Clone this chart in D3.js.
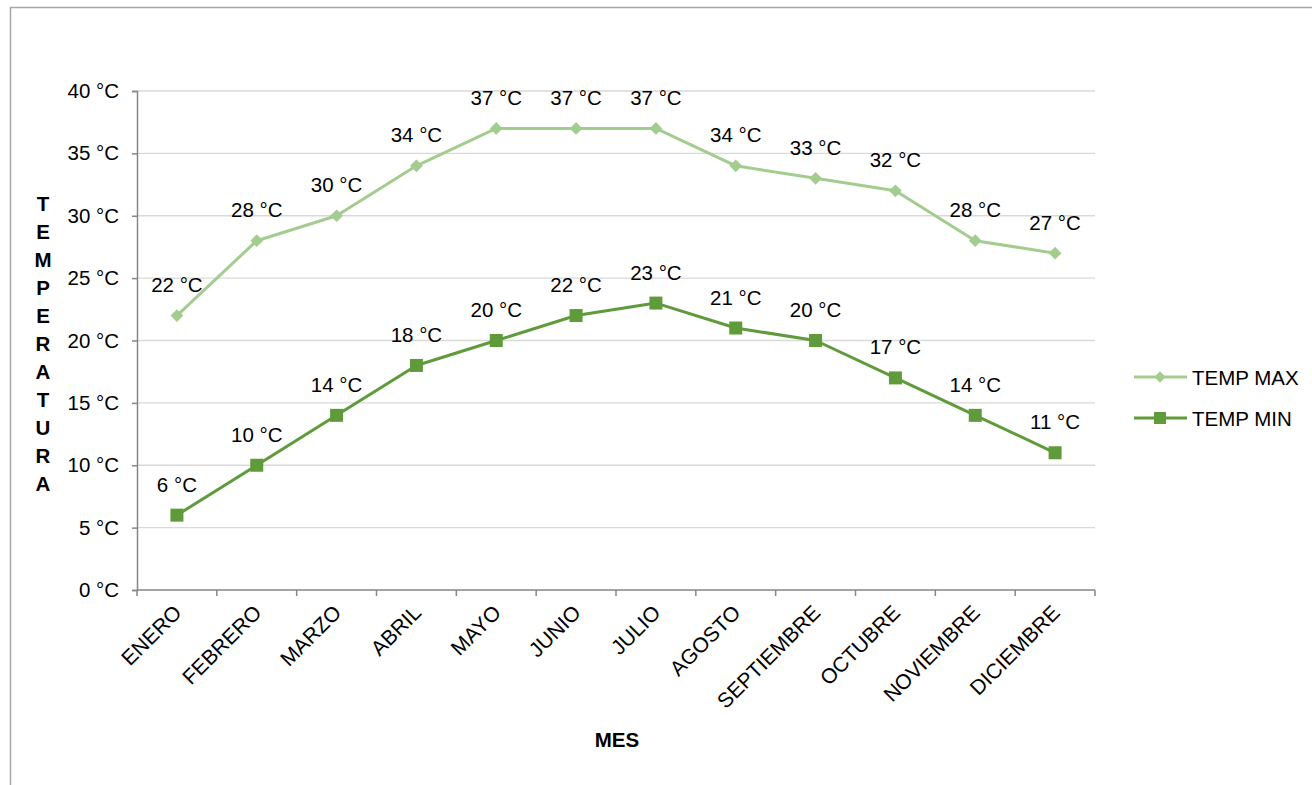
<!DOCTYPE html>
<html><head><meta charset="utf-8">
<script src="https://cdn.jsdelivr.net/npm/d3@7"></script>
<style>body{margin:0;background:#fff}svg{display:block;font-family:"Liberation Sans",Arial,sans-serif}</style>
</head><body>
<svg id="c" width="1312" height="785"></svg>
<script>
const months = ["ENERO","FEBRERO","MARZO","ABRIL","MAYO","JUNIO","JULIO","AGOSTO","SEPTIEMBRE","OCTUBRE","NOVIEMBRE","DICIEMBRE"];
const tempMax = [22,28,30,34,37,37,37,34,33,32,28,27];
const tempMin = [6,10,14,18,20,22,23,21,20,17,14,11];
const yTicks = [0,5,10,15,20,25,30,35,40];
const seriesNames = ["TEMP MAX","TEMP MIN"];
const colors = ["#A3CC8F","#5F9B3B"];

const svg = d3.select("#c");
svg.append("rect").attr("x",10.5).attr("y",7.5).attr("width",1400).attr("height",800)
  .attr("fill","none").attr("stroke","#A6A6A6").attr("stroke-width",1.5);

const L=137, R=1095, T=91, B=590;
const x = d3.scaleBand().domain(months).range([L,R]);
const y = d3.scaleLinear().domain([0,40]).range([B,T]);
const fs = "20.5px";

// gridlines
svg.append("g").selectAll("line").data(yTicks.filter(d=>d>0)).join("line")
  .attr("x1",L).attr("x2",R).attr("y1",d=>y(d)).attr("y2",d=>y(d))
  .attr("stroke","#D9D9D9").attr("stroke-width",1.3);

// y axis
const ya = svg.append("g").attr("transform",`translate(${L},0)`)
  .call(d3.axisLeft(y).tickValues(yTicks).tickSize(5).tickPadding(13).tickFormat(d=>d+" °C"));
ya.select(".domain").attr("stroke","#868686").attr("stroke-width",1.5);
ya.selectAll(".tick line").attr("stroke","#868686").attr("stroke-width",1.5);
ya.selectAll("text").attr("font-size",fs).attr("fill","#000").style("font-family","Liberation Sans, Arial, sans-serif");

// x axis
const xa = svg.append("g").attr("transform",`translate(0,${B})`);
xa.append("line").attr("x1",L).attr("x2",R).attr("stroke","#868686").attr("stroke-width",1.5);
xa.selectAll("line.t").data(months.map((m,i)=>i).concat([12])).join("line").attr("class","t")
  .attr("x1",i=>L+i*x.step()).attr("x2",i=>L+i*x.step()).attr("y1",0).attr("y2",6)
  .attr("stroke","#868686").attr("stroke-width",1.5);
xa.selectAll("text").data(months).join("text")
  .attr("transform",d=>`translate(${x(d)+x.bandwidth()/2+6},${24}) rotate(-45)`)
  .attr("text-anchor","end").attr("font-size","21px").attr("fill","#000").text(d=>d);

// lines
const line = d3.line().x((d,i)=>x(months[i])+x.bandwidth()/2).y(d=>y(d));
[tempMax,tempMin].forEach((s,k)=>{
  svg.append("path").datum(s).attr("d",line).attr("fill","none")
    .attr("stroke",colors[k]).attr("stroke-width",3).attr("stroke-linejoin","round");
  const g = svg.append("g");
  s.forEach((v,i)=>{
    const cx = x(months[i])+x.bandwidth()/2, cy=y(v);
    if(k===0){
      g.append("rect").attr("x",cx-4.5).attr("y",cy-4.5).attr("width",9).attr("height",9)
        .attr("transform",`rotate(45,${cx},${cy})`).attr("fill",colors[k]);
    } else {
      g.append("rect").attr("x",cx-6.5).attr("y",cy-6.5).attr("width",13).attr("height",13).attr("fill",colors[k]);
    }
    g.append("text").attr("x",cx).attr("y",cy-23.5).attr("text-anchor","middle")
      .attr("font-size",fs).attr("fill","#000").text(v+" °C");
  });
});

// legend
const ly=[377,418];
seriesNames.forEach((n,k)=>{
  svg.append("line").attr("x1",1134).attr("x2",1187).attr("y1",ly[k]).attr("y2",ly[k])
    .attr("stroke",colors[k]).attr("stroke-width",3);
  const cx=1160, cy=ly[k];
  if(k===0) svg.append("rect").attr("x",cx-4).attr("y",cy-4).attr("width",8).attr("height",8)
    .attr("transform",`rotate(45,${cx},${cy})`).attr("fill",colors[k]);
  else svg.append("rect").attr("x",cx-6).attr("y",cy-6).attr("width",12).attr("height",12).attr("fill",colors[k]);
  svg.append("text").attr("x",1192).attr("y",cy+7.5).attr("font-size",fs).attr("fill","#000").text(n);
});

// axis titles
const title = "TEMPERATURA".split("");
svg.append("g").selectAll("text").data(title).join("text")
  .attr("x",43).attr("y",(d,i)=>211+i*28).attr("text-anchor","middle")
  .attr("font-size",fs).attr("font-weight","bold").attr("fill","#000").text(d=>d);
svg.append("text").attr("x",617).attr("y",747).attr("text-anchor","middle")
  .attr("font-size",fs).attr("font-weight","bold").attr("fill","#000").text("MES");
</script>
</body></html>
